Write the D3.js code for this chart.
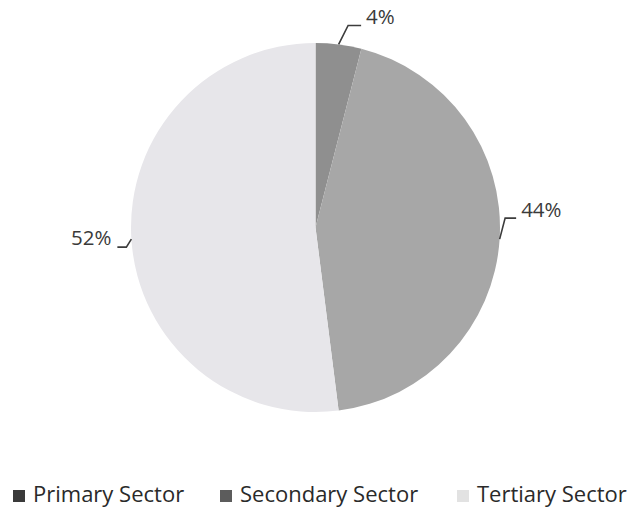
<!DOCTYPE html>
<html>
<head>
<meta charset="utf-8">
<script src="https://cdn.jsdelivr.net/npm/d3@7/dist/d3.min.js"></script>
<style>
  html, body { margin: 0; padding: 0; background: #ffffff; }
  svg { display: block; }
</style>
</head>
<body>
<script>
// Employment share by sector
const sectors = ["Primary Sector", "Secondary Sector", "Tertiary Sector"];
const shares = [4, 44, 52];
const valueLabels = ["4%", "44%", "52%"];

const width = 632, height = 511;
const cx = 315.5, cy = 227.5, radius = 184.5;

const sliceColor = d3.scaleOrdinal().domain(sectors).range(["#8f8f8f", "#a7a7a7", "#e7e6ea"]);
const swatchColor = d3.scaleOrdinal().domain(sectors).range(["#3a3a3a", "#5c5c5c", "#e2e2e2"]);

// leader-line shape per label: elbow offset from slice edge, horizontal run, text gap
const leader = [
  { ex: 9.5, ey: -19, run: 13, gap: 5, dy: -1 },
  { ex: 5.5, ey: -21, run: 11, gap: 5, dy: -1 },
  { ex: -5, ey: 8, run: -9, gap: -6, dy: -2 }
];

const svg = d3.select("body").append("svg")
  .attr("width", width).attr("height", height);

const pie = d3.pie().sort(null).value(d => d);
const arcs = pie(shares);
const arc = d3.arc().innerRadius(0).outerRadius(radius);

const g = svg.append("g").attr("transform", `translate(${cx},${cy})`);

g.selectAll("path.slice")
  .data(arcs)
  .join("path")
  .attr("class", "slice")
  .attr("d", arc)
  .attr("fill", (d, i) => sliceColor(sectors[i]));

// labels with leader lines
arcs.forEach((a, i) => {
  const mid = (a.startAngle + a.endAngle) / 2;
  const px = radius * Math.sin(mid);
  const py = -radius * Math.cos(mid);
  const L = leader[i];
  const ex = px + L.ex, ey = py + L.ey;
  const hx = ex + L.run;
  g.append("path")
    .attr("d", `M${px},${py}L${ex},${ey}L${hx},${ey}`)
    .attr("fill", "none")
    .attr("stroke", "#3c3c3c")
    .attr("stroke-width", 1.6);
  g.append("text")
    .attr("x", hx + L.gap)
    .attr("y", ey + L.dy)
    .attr("text-anchor", L.gap > 0 ? "start" : "end")
    .attr("font-family", "Open Sans, sans-serif")
    .attr("font-size", 20.5)
    .attr("fill", "#3a3a3a")
    .text(valueLabels[i]);
});

// legend
const legendX = [13, 220, 457];
const legend = svg.append("g").attr("transform", "translate(0,502)");
const items = legend.selectAll("g.item")
  .data(sectors)
  .join("g")
  .attr("class", "item")
  .attr("transform", (d, i) => `translate(${legendX[i]},0)`);
items.append("rect")
  .attr("x", 0).attr("y", -12)
  .attr("width", 12).attr("height", 12)
  .attr("fill", d => swatchColor(d));
items.append("text")
  .attr("x", 20).attr("y", 0)
  .attr("font-family", "Open Sans, sans-serif")
  .attr("font-size", 22)
  .attr("fill", "#2a2a2a")
  .text(d => d);
</script>
</body>
</html>
